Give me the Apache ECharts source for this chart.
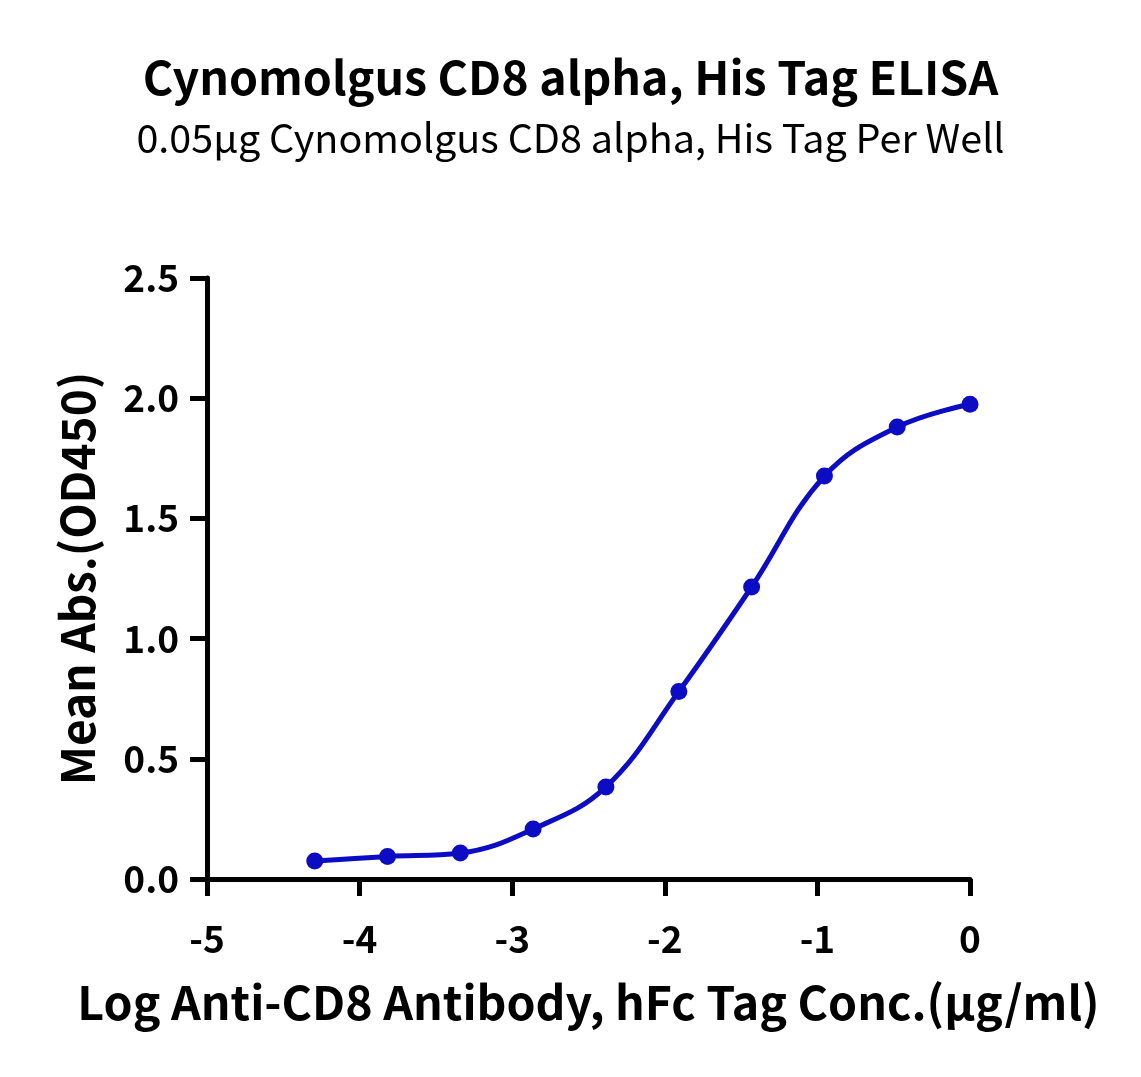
<!DOCTYPE html>
<html>
<head>
<meta charset="utf-8">
<script src="https://cdn.jsdelivr.net/npm/echarts@6/dist/echarts.min.js"></script>
<style>html,body{margin:0;padding:0;background:#fff;}#c{width:1141px;height:1077px;}</style>
</head>
<body>
<div id="c"></div>
<script>
// Log concentration (µg/ml), 3-fold dilution series
const logConc = [-4.294, -3.817, -3.340, -2.863, -2.386, -1.908, -1.431, -0.954, -0.477, 0];
const meanAbs = [0.075, 0.094, 0.108, 0.208, 0.383, 0.780, 1.215, 1.676, 1.880, 1.975];
const xTicks = [-5, -4, -3, -2, -1, 0];
const yTicks = [0, 0.5, 1.0, 1.5, 2.0, 2.5];

const FONT = '"Noto Sans CJK SC", Lato, sans-serif';
const BLUE = '#0c0cc4';
const chart = echarts.init(document.getElementById('c'), null, {renderer: 'canvas'});
chart.setOption({
  animation: false,
  backgroundColor: '#fff',
  title: [{
    text: 'Cynomolgus CD8 alpha, His Tag ELISA',
    left: 'center', top: 49,
    textStyle: {fontFamily: FONT, fontWeight: 'bold', fontSize: 46.5, color: '#000'}
  }, {
    text: '0.05µg Cynomolgus CD8 alpha, His Tag Per Well',
    left: 'center', top: 113,
    textStyle: {fontFamily: FONT, fontWeight: 'normal', fontSize: 39.5, color: '#000'}
  }],
  grid: {left: 207, right: 171, top: 278, bottom: 198, containLabel: false},
  xAxis: {
    type: 'value', min: xTicks[0], max: xTicks[xTicks.length - 1], interval: 1,
    name: 'Log Anti-CD8 Antibody, hFc Tag Conc.(µg/ml)',
    nameLocation: 'middle', nameGap: 100,
    nameTextStyle: {fontFamily: FONT, fontWeight: 'bold', fontSize: 46.5, color: '#000', verticalAlign: 'top'},
    axisLine: {onZero: false, lineStyle: {color: '#000', width: 5}},
    axisTick: {show: true, inside: false, length: 17, lineStyle: {color: '#000', width: 5}},
    axisLabel: {fontFamily: FONT, fontWeight: 'bold', fontSize: 37, color: '#000', margin: 41,
      formatter: v => String(v)},
    splitLine: {show: false}
  },
  yAxis: {
    type: 'value', min: yTicks[0], max: yTicks[yTicks.length - 1], interval: 0.5,
    name: 'Mean Abs.(OD450)',
    nameLocation: 'middle', nameGap: 106,
    nameTextStyle: {fontFamily: FONT, fontWeight: 'bold', fontSize: 46, color: '#000'},
    axisLine: {show: true, onZero: false, lineStyle: {color: '#000', width: 5}},
    axisTick: {show: true, inside: false, length: 17, lineStyle: {color: '#000', width: 5}},
    axisLabel: {fontFamily: FONT, fontWeight: 'bold', fontSize: 37, color: '#000', margin: 28,
      formatter: v => v.toFixed(1)},
    splitLine: {show: false}
  },
  series: [{
    type: 'line',
    data: logConc.map((x, i) => [x, meanAbs[i]]),
    smooth: 0.4,
    symbol: 'circle', symbolSize: 17,
    itemStyle: {color: BLUE},
    lineStyle: {color: BLUE, width: 5},
    z: 5
  }]
});
</script>
</body>
</html>
